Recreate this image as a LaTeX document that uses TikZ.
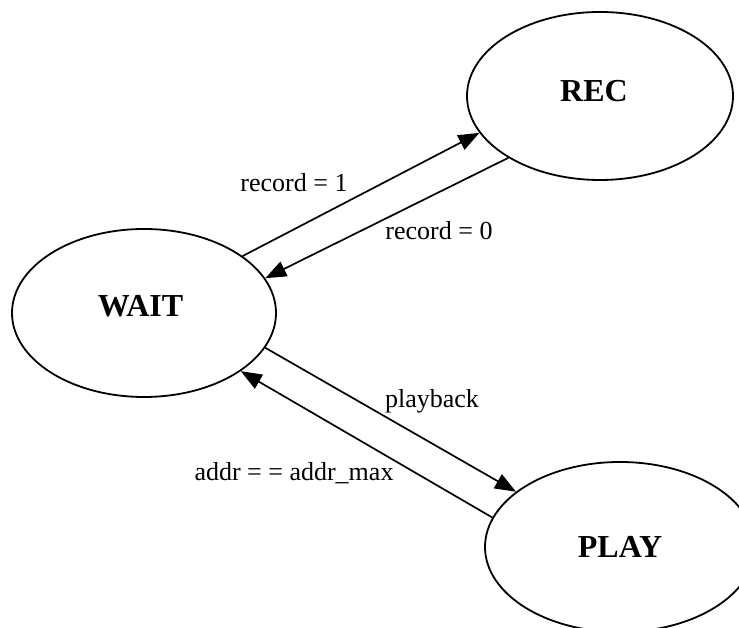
\documentclass[tikz,border=0pt]{standalone}
\usepackage{fontspec}
\setmainfont{Liberation Serif}
\usetikzlibrary{arrows.meta,shapes.geometric}
\begin{document}
\begin{tikzpicture}[x=1pt,y=1pt,
  state/.style={draw,ellipse,line width=1.8pt,inner sep=0pt,
    font=\fontsize{32}{35}\selectfont\bfseries,text height=22pt},
  trans/.style={line width=1.7pt,-{Triangle[length=21pt,width=16pt]}},
  lbl/.style={font=\fontsize{26}{30}\selectfont,anchor=base,inner sep=0pt}]
\useasboundingbox (0,0) rectangle (739,628);
\clip (0,0) rectangle (739,628);
\fill[white] (0,0) rectangle (739,628);
\node[state,minimum width=266pt,minimum height=168pt,text depth=10pt] (rec) at (600,532) {REC\hspace*{12pt}};
\node[state,minimum width=264pt,minimum height=168pt,text depth=14pt] (wait) at (144,315) {WAIT\hspace*{7pt}};
\node[state,minimum width=270pt,minimum height=170pt,text depth=0pt] (play) at (620,81) {PLAY};
\draw[trans] (wait.30.7) -- (rec.197.8);
\draw[trans] (rec.214) -- (wait.16.4);
\draw[trans] (wait.-16.6) -- (play.152.8);
\draw[trans] (play.167.5) -- (wait.-31.9);
\node[lbl] (l1) at (294,436) {record = 1};
\node[lbl] (l0) at (439,388) {record = 0};
\node[lbl] (lp) at (432,220) {playback};
\node[lbl] (la) at (294,147) {addr = = addr\_max};
\end{tikzpicture}
\end{document}
